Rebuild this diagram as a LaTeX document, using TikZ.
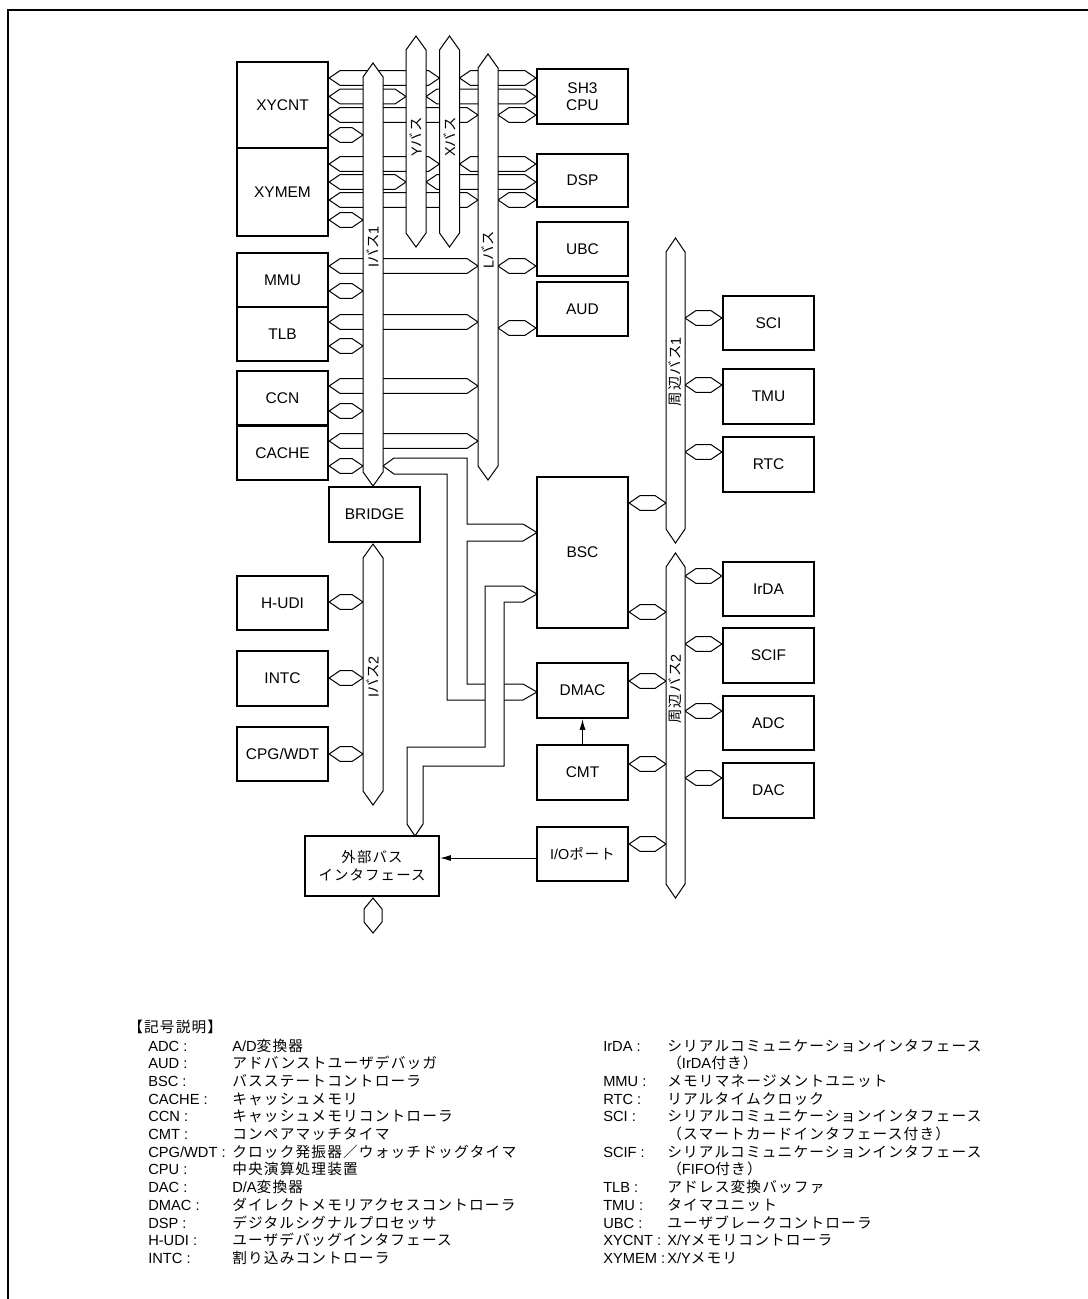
\documentclass[tikz,border=0pt]{standalone}
\usepackage{fontspec}
\setmainfont{Liberation Sans}
\newfontfamily\jf{Noto Sans CJK JP}[LetterSpace=8]
\newcommand\J[1]{{\jf #1}}
\usetikzlibrary{arrows.meta,calc}
% box: name, x1, y1, x2, y2, text
\newcommand\bx[7][]{\node[box,#1,minimum width={(#5-#3)*0.75pt},minimum height={(#6-#4)*0.75pt}] (#2) at ({(#3+#5)/2},{(#4+#6)/2}) {#7};}
% horizontal double-headed connector between x of two named points at row y
\newcommand\hexc[3]{\path[conn] let \p1=(#1), \p2=(#2), \p3=(0,#3) in
  (\x1,\y3) -- (\x1+8.25pt,\y3+5.6pt) -- (\x2-8.25pt,\y3+5.6pt) -- (\x2,\y3) -- (\x2-8.25pt,\y3-5.6pt) -- (\x1+8.25pt,\y3-5.6pt) -- cycle;}
% vertical bus: cx, top tip, bottom tip, half width
\newcommand\vbus[4]{\path[bus] (#1,#2) -- (#1+#4,#2+14) -- (#1+#4,#3-14) -- (#1,#3) -- (#1-#4,#3-14) -- (#1-#4,#2+14) -- cycle;}
\newcommand\lrow[3]{\node[lg] (la#1) at (148,{1051+17.7*#1}) {#2}; \node[lg] (ld#1) at (232,{1051+17.7*#1}) {#3};}
\newcommand\rrow[3]{\node[lg] (ra#1) at (603,{1051+17.7*#1}) {#2}; \node[lg] (rd#1) at (667,{1051+17.7*#1}) {#3};}
\begin{document}
\begin{tikzpicture}[x=0.75pt,y=-0.75pt,
  box/.style={draw, line width=1.7pt, inner sep=0pt, align=center, font=\fontsize{11.6}{12.9}\selectfont},
  conn/.style={draw, fill=white, line width=0.75pt, line join=miter},
  bus/.style={draw, fill=white, line width=0.75pt},
  buslbl/.style={rotate=90, inner sep=0pt, font=\fontsize{10.8}{12}\selectfont},
  lg/.style={anchor=base west, inner sep=0pt, font=\fontsize{11}{13}\selectfont},
  arr/.style={-{Latex[length=8pt,width=4.5pt]}, line width=0.75pt}]
\useasboundingbox (0,0) rectangle (1088,1299);
\draw[line width=1.6pt] (8,1299) -- (8,10) -- (1088,10);

% boxes
\bx{XYCNT}{237}{62}{328}{148}{XYCNT}
\bx{XYMEM}{237}{148}{328}{236}{XYMEM}
\bx{SH3}{537}{69}{628}{124}{SH3\\CPU}
\bx{DSP}{537}{154}{628}{207}{DSP}
\bx{UBC}{537}{222}{628}{276}{UBC}
\bx{AUD}{537}{282}{628}{336}{AUD}
\bx{MMU}{237}{253}{328}{307}{MMU}
\bx{TLB}{237}{307}{328}{361}{TLB}
\bx{CCN}{237}{371}{328}{425}{CCN}
\bx{CACHE}{237}{426}{328}{480}{CACHE}
\bx{BRIDGE}{329}{487}{420}{542}{BRIDGE}
\bx{BSC}{537}{477}{628}{628}{BSC}
\bx{DMAC}{537}{663}{628}{718}{DMAC}
\bx{CMT}{537}{745}{628}{800}{CMT}
\bx[font=\fontsize{10.8}{13.5}\selectfont]{IO}{537}{827}{628}{881}{I/O\J{ポート}}
\bx[font=\fontsize{10.8}{13.5}\selectfont]{EXT}{305}{836}{439}{896}{\J{外部バス}\\\J{インタフェース}}
\bx{HUDI}{237}{576}{328}{630}{H-UDI}
\bx{INTC}{237}{651}{328}{706}{INTC}
\bx{CPG}{237}{727}{328}{781}{CPG/WDT}
\bx{SCI}{723}{296}{814}{350}{SCI}
\bx{TMU}{723}{369}{814}{424}{TMU}
\bx{RTC}{723}{437}{814}{492}{RTC}
\bx{IrDA}{723}{562}{814}{616}{IrDA}
\bx{SCIF}{723}{628}{814}{683}{SCIF}
\bx{ADC}{723}{696}{814}{750}{ADC}
\bx{DAC}{723}{763}{814}{818}{DAC}

% bus edges
\coordinate (I1w) at (363,0); \coordinate (I1e) at (383,0);
\coordinate (Yw) at (406,0);  \coordinate (Ye) at (426,0);
\coordinate (Xw) at (439.5,0); \coordinate (Xe) at (459.5,0);
\coordinate (Lw) at (478,0);  \coordinate (Le) at (498,0);
\coordinate (Pw) at (666,0);  \coordinate (Pe) at (685,0);
\coordinate (I2w) at (363,0); \coordinate (I2e) at (383,0);

% connectors
\hexc{XYCNT.east}{Xw}{78}
\hexc{Xe}{SH3.west}{78}
\hexc{XYCNT.east}{Yw}{96.5}
\hexc{Ye}{SH3.west}{96.5}
\hexc{XYCNT.east}{Lw}{115}
\hexc{Le}{SH3.west}{115}
\hexc{XYCNT.east}{I1w}{135}
\hexc{XYMEM.east}{Xw}{164}
\hexc{Xe}{DSP.west}{164}
\hexc{XYMEM.east}{Yw}{182}
\hexc{Ye}{DSP.west}{182}
\hexc{XYMEM.east}{Lw}{200}
\hexc{Le}{DSP.west}{200}
\hexc{XYMEM.east}{I1w}{220}
\hexc{MMU.east}{Lw}{266}
\hexc{MMU.east}{I1w}{291}
\hexc{Le}{UBC.west}{266}
\hexc{TLB.east}{Lw}{322}
\hexc{TLB.east}{I1w}{346}
\hexc{Le}{AUD.west}{328}
\hexc{CCN.east}{Lw}{386}
\hexc{CCN.east}{I1w}{411}
\hexc{CACHE.east}{Lw}{441}
\hexc{CACHE.east}{I1w}{466}
\hexc{Pe}{SCI.west}{318}
\hexc{Pe}{TMU.west}{385}
\hexc{Pe}{RTC.west}{452}
\hexc{BSC.east}{Pw}{503}
\hexc{BSC.east}{Pw}{612}
\hexc{Pe}{IrDA.west}{576}
\hexc{Pe}{SCIF.west}{644}
\hexc{Pe}{ADC.west}{711}
\hexc{Pe}{DAC.west}{778}
\hexc{DMAC.east}{Pw}{681}
\hexc{CMT.east}{Pw}{764}
\hexc{IO.east}{Pw}{844}
\hexc{HUDI.east}{I2w}{602}
\hexc{INTC.east}{I2w}{678}
\hexc{CPG.east}{I2w}{754}

% I bus 1 -> BSC / DMAC
\path[conn] (383,466) -- (394,458) -- (467,458) -- (467,524) -- (523,524) -- (537,532.5) -- (523,541) -- (467,541) -- (467,684) -- (523,684) -- (537,692) -- (523,700) -- (447,700) -- (447,474) -- (394,474) -- cycle;
% external bus interface -> BSC
\path[conn] (415,836) -- (407,824) -- (407,747) -- (485,747) -- (485,586) -- (523,586) -- (537,594) -- (523,602) -- (504,602) -- (504,766) -- (423,766) -- (423,824) -- cycle;

% buses
\vbus{373}{63}{486}{10}
\vbus{416}{36}{247}{10}
\vbus{449.5}{36}{247}{10}
\vbus{488}{54}{480}{10}
\vbus{675.5}{238}{543}{9.5}
\vbus{675.5}{553}{898}{9.5}
\vbus{373}{544}{805}{10}
\path[bus] (373,898) -- (382,909) -- (382,922) -- (373,933) -- (364,922) -- (364,909) -- cycle;

\node[buslbl] (lI1) at (373,247) {I\J{バス}1};
\node[buslbl] (lY) at (416,137) {Y\J{バス}};
\node[buslbl] (lX) at (449.5,137) {X\J{バス}};
\node[buslbl] (lL) at (488,250) {L\J{バス}};
\node[buslbl] (lP1) at (675.5,372) {\J{周辺バス}1};
\node[buslbl] (lP2) at (675.5,689) {\J{周辺バス}2};
\node[buslbl] (lI2) at (373,677) {I\J{バス}2};

% arrows
\draw[arr] (CMT.north) -- (DMAC.south);
\coordinate (ioa) at ($(IO.west)+(0,4)$);
\draw[arr] (ioa) -- (ioa -| EXT.east);

% legend
\node[lg] (hdr) at (128,1032) {\J{【記号説明】}};
\lrow{0}{ADC :}{A/D\J{変換器}}
\lrow{1}{AUD :}{\J{アドバンストユーザデバッガ}}
\lrow{2}{BSC :}{\J{バスステートコントローラ}}
\lrow{3}{CACHE :}{\J{キャッシュメモリ}}
\lrow{4}{CCN :}{\J{キャッシュメモリコントローラ}}
\lrow{5}{CMT :}{\J{コンペアマッチタイマ}}
\lrow{6}{CPG/WDT :}{\J{クロック発振器／ウォッチドッグタイマ}}
\lrow{7}{CPU :}{\J{中央演算処理装置}}
\lrow{8}{DAC :}{D/A\J{変換器}}
\lrow{9}{DMAC :}{\J{ダイレクトメモリアクセスコントローラ}}
\lrow{10}{DSP :}{\J{デジタルシグナルプロセッサ}}
\lrow{11}{H-UDI :}{\J{ユーザデバッグインタフェース}}
\lrow{12}{INTC :}{\J{割り込みコントローラ}}
\rrow{0}{IrDA :}{\J{シリアルコミュニケーションインタフェース}}
\rrow{1}{}{\J{（}IrDA\J{付き）}}
\rrow{2}{MMU :}{\J{メモリマネージメントユニット}}
\rrow{3}{RTC :}{\J{リアルタイムクロック}}
\rrow{4}{SCI :}{\J{シリアルコミュニケーションインタフェース}}
\rrow{5}{}{\J{（スマートカードインタフェース付き）}}
\rrow{6}{SCIF :}{\J{シリアルコミュニケーションインタフェース}}
\rrow{7}{}{\J{（}FIFO\J{付き）}}
\rrow{8}{TLB :}{\J{アドレス変換バッファ}}
\rrow{9}{TMU :}{\J{タイマユニット}}
\rrow{10}{UBC :}{\J{ユーザブレークコントローラ}}
\rrow{11}{XYCNT :}{X/Y\J{メモリコントローラ}}
\rrow{12}{XYMEM :}{X/Y\J{メモリ}}
\end{tikzpicture}
\end{document}
